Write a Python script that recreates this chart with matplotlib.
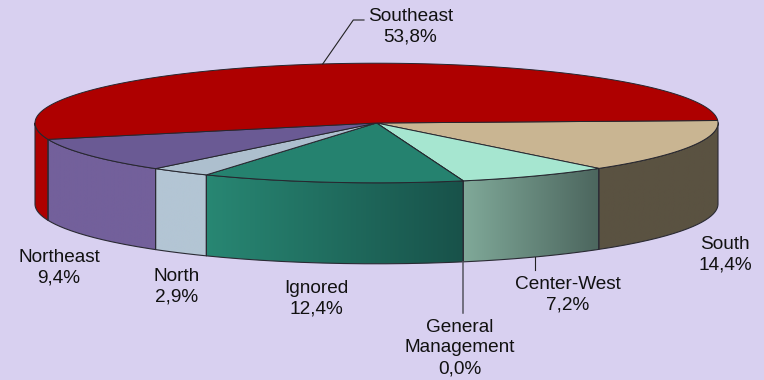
import numpy as np
import matplotlib
matplotlib.use('Agg')
import matplotlib.pyplot as plt
from matplotlib.patches import Polygon

plt.rcParams['font.family'] = ['Liberation Sans', 'DejaVu Sans']

regions = ['South', 'Center-West', 'General\nManagement', 'Ignored', 'North', 'Northeast', 'Southeast']
shares = [14.4, 7.2, 0.0, 12.4, 2.9, 9.4, 53.8]
share_labels = ['14,4%', '7,2%', '0,0%', '12,4%', '2,9%', '9,4%', '53,8%']

top_colors = ['#c9b592', '#a6e6d0', '#a6e6d0', '#25826f', '#adbfce', '#6a5a94', '#ae0000']
side_left = ['#5a5241', '#80a999', '#80a999', '#288773', '#b3c5d4', '#73609b', '#ae0000']
side_right = ['#5a5241', '#4c665e', '#4c665e', '#18524a', '#b3c5d4', '#73609b', '#ae0000']
label_pos = [(725, 255), (568, 295), (460, 348), (316, 298.5), (177, 287), (59, 267.5), (410.5, 26.5)]

cx, cy, a, b, depth = 376.5, 123, 341.5, 59.8, 81
start = -2.4

fig = plt.figure(figsize=(7.64, 3.8), dpi=100, facecolor='#d8d0f0')
ax = fig.add_axes([0, 0, 1, 1])
ax.set_xlim(0, 764)
ax.set_ylim(380, 0)
ax.axis('off')


def rim(t0, t1):
    t = np.radians(np.linspace(t0, t1, max(int(abs(t1 - t0) * 2), 2)))
    return cx + a * np.cos(t), cy + b * np.sin(t)


edges = start + np.cumsum([0] + shares) * 360 / sum(shares)

# sides first, only the front half of the rim can be seen
for i in range(len(shares)):
    t0, t1 = edges[i], edges[i + 1]
    vis0, vis1 = max(t0, 0), min(t1, 180)
    if vis1 <= vis0:
        continue
    x, y = rim(vis0, vis1)
    pts = np.r_[np.c_[x, y], np.c_[x[::-1], y[::-1] + depth]]
    poly = Polygon(pts, closed=True, fc='none', ec='none')
    ax.add_patch(poly)
    c0 = np.array(matplotlib.colors.to_rgb(side_left[i]))
    c1 = np.array(matplotlib.colors.to_rgb(side_right[i]))
    grad = np.linspace(0, 1, 128)[None, :, None]
    img = c0 + (c1 - c0) * grad
    im = ax.imshow(img, extent=(x.min(), x.max(), y.max() + depth, y.min()), aspect='auto', zorder=2)
    im.set_clip_path(poly)
    ax.plot(np.r_[x, x[::-1], x[0]], np.r_[y, y[::-1] + depth, y[0]], color='#2a2a33', lw=0.8, zorder=3)

# top face
for i in range(len(shares)):
    x, y = rim(edges[i], edges[i + 1])
    pts = np.r_[[[cx, cy]], np.c_[x, y]]
    ax.add_patch(Polygon(pts, closed=True, fc=top_colors[i], ec='#26262e', lw=0.7, zorder=4))

ax.set_xlim(0, 764)
ax.set_ylim(380, 0)

# leader lines
ax.plot([322.7, 353.3, 364], [64, 20, 20], color='#222222', lw=0.8, zorder=5)
ax.plot([462.8, 462.8], [262, 313], color='#555560', lw=1.1, zorder=5)
ax.plot([534.7, 534.7], [257, 270], color='#222222', lw=0.8, zorder=5)

for name, val, (lx, ly) in zip(regions, share_labels, label_pos):
    ax.text(lx, ly, name + '\n' + val, ha='center', va='center', fontsize=13.7,
            color='#111111', linespacing=1.3, zorder=6)

fig.savefig('out.png', dpi=100, facecolor=fig.get_facecolor())
